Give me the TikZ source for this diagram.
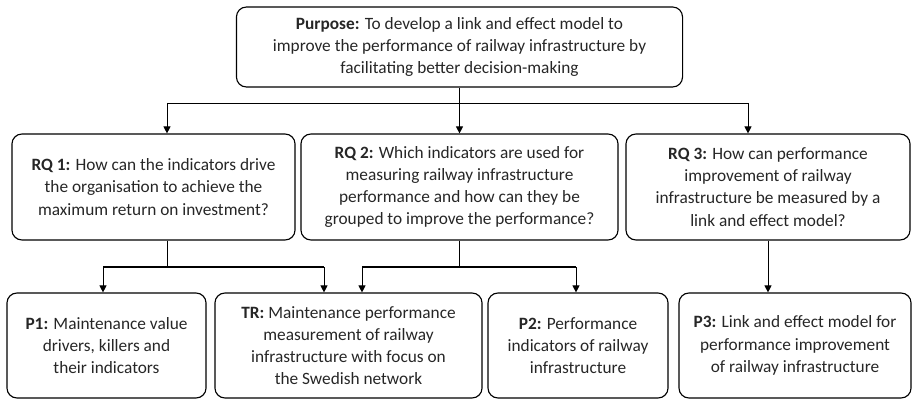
\documentclass[tikz,border=0pt]{standalone}
\usepackage{fontspec}
\setmainfont{Carlito}
\usetikzlibrary{arrows.meta}
\tikzset{
  box/.style={draw,rounded corners=0.25cm,line width=0.8pt,align=center,inner sep=2pt,
    text=black!85,font=\fontsize{12.3}{15.8}\selectfont},
  link/.style={line width=0.7pt},
  bus/.style={line width=1.3pt},
  arr/.style={-{Triangle[length=5pt,width=5pt]},line width=0.7pt},
}
\begin{document}
\begin{tikzpicture}[x=0.025cm,y=-0.025cm]
\useasboundingbox (0,0) rectangle (912,399);
% purpose
\node[box,minimum width=11.15cm,minimum height=2cm](purpose) at (459.5,47)
  {\textbf{Purpose:} To develop a link and effect model to\\improve the performance of railway infrastructure by\\facilitating better decision-making};
% research questions
\node[box,minimum width=7.075cm,minimum height=2.65cm](rq1) at (153.5,187)
  {\textbf{RQ 1:} How can the indicators drive\\the organisation to achieve the\\maximum return on investment?};
\node[box,minimum width=7.925cm,minimum height=2.65cm](rq2) at (459.5,187)
  {\textbf{RQ 2:} Which indicators are used for\\measuring railway infrastructure\\performance and how can they be\\grouped to improve the performance?};
\node[box,minimum width=7.1cm,minimum height=2.65cm](rq3) at (768,187)
  {\textbf{RQ 3:} How can performance\\improvement of railway\\infrastructure be measured by a\\link and effect model?};
% papers
\node[box,minimum width=4.975cm,minimum height=2.625cm](p1) at (106.5,345.5)
  {\textbf{P1:} Maintenance value\\drivers, killers and\\their indicators};
\node[box,minimum width=6.675cm,minimum height=2.625cm](tr) at (348.5,345.5)
  {\textbf{TR:} Maintenance performance\\measurement of railway\\infrastructure with focus on\\the Swedish network};
\node[box,minimum width=4.5cm,minimum height=2.625cm](p2) at (578,345.5)
  {\textbf{P2:} Performance\\indicators of railway\\infrastructure};
\node[box,minimum width=5.8cm,minimum height=2.625cm](p3) at (795,345.5)
  {\textbf{P3:} Link and effect model for\\performance improvement\\of railway infrastructure};

\coordinate (busL) at (167,103);
\coordinate (busR) at (748,103);
\coordinate (s1L) at (103,267);
\coordinate (s1R) at (324,267);
\coordinate (s2L) at (362,267);
\coordinate (s2R) at (576,267);

\draw[link] (busL) -- (busR);
\draw[arr] (purpose.south) -- (rq2.north);
\draw[arr] (busL) -- (busL |- rq1.north);
\draw[arr] (busR) -- (busR |- rq3.north);

\draw[link] (busL |- rq1.south) -- (busL |- s1L);
\draw[bus] (s1L) -- (s1R);
\draw[arr] (s1L) -- (s1L |- p1.north);
\draw[arr] (s1R) -- (s1R |- tr.north);

\draw[link] (rq2.south) -- (rq2.south |- s2L);
\draw[bus] (s2L) -- (s2R);
\draw[arr] (s2L) -- (s2L |- tr.north);
\draw[arr] (s2R) -- (s2R |- p2.north);

\draw[arr] (rq3.south) -- (rq3.south |- p3.north);
\end{tikzpicture}
\end{document}
